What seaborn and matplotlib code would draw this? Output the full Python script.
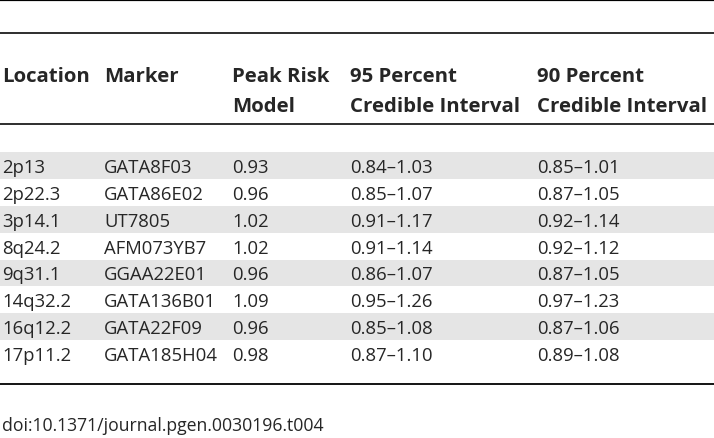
### Credible intervals of peak risk model ###
import matplotlib
matplotlib.use("Agg")
import matplotlib.pyplot as plt
import seaborn as sns
import numpy as np
import pandas as pd

# table content
locations = ["2p13", "2p22.3", "3p14.1", "8q24.2", "9q31.1", "14q32.2", "16q12.2", "17p11.2"]
markers = ["GATA8F03", "GATA86E02", "UT7805", "AFM073YB7", "GGAA22E01", "GATA136B01", "GATA22F09", "GATA185H04"]
peak_risk = [0.93, 0.96, 1.02, 1.02, 0.96, 1.09, 0.96, 0.98]
ci95_low = [0.84, 0.85, 0.91, 0.91, 0.86, 0.95, 0.85, 0.87]
ci95_high = [1.03, 1.07, 1.17, 1.14, 1.07, 1.26, 1.08, 1.10]
ci90_low = [0.85, 0.87, 0.92, 0.92, 0.87, 0.97, 0.87, 0.89]
ci90_high = [1.01, 1.05, 1.14, 1.12, 1.05, 1.23, 1.06, 1.08]
headers = [("Location", ""), ("Marker", ""), ("Peak Risk", "Model"),
           ("95 Percent", "Credible Interval"), ("90 Percent", "Credible Interval")]
footnote = "doi:10.1371/journal.pgen.0030196.t004"

df = pd.DataFrame({
    "Location": locations,
    "Marker": markers,
    "Peak": [f"{v:.2f}" for v in peak_risk],
    "CI95": [f"{a:.2f}\u2013{b:.2f}" for a, b in zip(ci95_low, ci95_high)],
    "CI90": [f"{a:.2f}\u2013{b:.2f}" for a, b in zip(ci90_low, ci90_high)],
})

sns.set_theme(style="white")
plt.rcParams["font.family"] = ["Open Sans", "DejaVu Sans"]

# layout (pixel units)
W, H = 714, 439
col_x = [2, 104, 232, 350, 537]
row_base0 = 173.3
row_h = 26.8
fs_body = 13.3
fs_head = 14.7
band_color = "#e5e5e5"

fig = plt.figure(figsize=(W / 100, H / 100), dpi=100)
ax = fig.add_axes([0, 0, 1, 1])
ax.set_xlim(0, W)
ax.set_ylim(H, 0)
ax.axis("off")

# rules
for y, lw in [(1.2, 2.2), (34.3, 1.6), (124.5, 1.6), (385.5, 1.8)]:
    ax.axhline(y, color="black", lw=lw * 0.72)

# header
for x, (l1, l2) in zip(col_x, headers):
    ax.text(x, 82.3, l1, fontsize=fs_head, fontweight="bold", va="baseline", ha="left")
    if l2:
        ax.text(x, 111.7, l2, fontsize=fs_head, fontweight="bold", va="baseline", ha="left")

# body rows
for i, row in enumerate(df.itertuples(index=False)):
    base = row_base0 + i * row_h
    if i % 2 == 0:
        ax.axhspan(base - 6.5 - row_h / 2, base - 6.5 + row_h / 2, color=band_color, lw=0, zorder=0)
    for x, val in zip(col_x, row):
        ax.text(x, base, val, fontsize=fs_body, va="baseline", ha="left")

ax.text(2, 431, footnote, fontsize=12.7, va="baseline", ha="left")

fig.savefig("out.png", dpi=100, facecolor="white")
